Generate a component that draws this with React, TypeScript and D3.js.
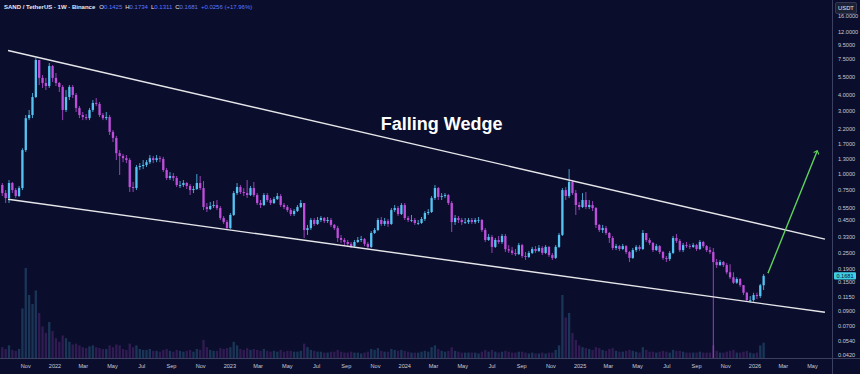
import React from "react";
import * as d3 from "d3";

const W = 860;
const H = 374;
const START = Date.UTC(2021, 8, 13);
const WEEK = 7 * 24 * 3600 * 1000;

const firstOpen = 0.825;

const closes = [
  0.716, 0.657, 0.854, 0.755, 0.680, 0.782, 1.52, 2.66, 2.81, 3.85,
  7.36, 5.38, 4.92, 4.67, 6.62, 5.38, 4.92, 4.59, 3.07, 3.85,
  4.59, 3.99, 3.18, 2.81, 2.71, 2.66, 3.07, 3.47, 3.41, 2.81,
  2.66, 2.71, 2.09, 1.88, 1.44, 1.37, 1.32, 1.277, 0.796, 0.782,
  1.13, 1.15, 1.171, 1.23, 1.32, 1.277, 1.32, 1.30, 1.073, 0.932,
  0.966, 0.932, 0.825, 0.825, 0.854, 0.811, 0.755, 0.769, 0.854, 0.782,
  0.561, 0.541, 0.571, 0.581, 0.551, 0.463, 0.431, 0.388, 0.488, 0.716,
  0.796, 0.729, 0.716, 0.692, 0.782, 0.692, 0.602, 0.581, 0.692, 0.634,
  0.602, 0.645, 0.680, 0.581, 0.561, 0.532, 0.496, 0.523, 0.561, 0.602,
  0.375, 0.388, 0.447, 0.417, 0.447, 0.463, 0.439, 0.447, 0.410, 0.388,
  0.326, 0.315, 0.304, 0.294, 0.283, 0.304, 0.315, 0.320, 0.294, 0.279,
  0.356, 0.375, 0.447, 0.417, 0.439, 0.417, 0.532, 0.551, 0.496, 0.581,
  0.463, 0.447, 0.447, 0.424, 0.424, 0.455, 0.505, 0.514, 0.657, 0.782,
  0.669, 0.680, 0.692, 0.602, 0.431, 0.463, 0.447, 0.431, 0.431, 0.447,
  0.431, 0.447, 0.447, 0.375, 0.315, 0.332, 0.279, 0.315, 0.304, 0.338,
  0.268, 0.262, 0.251, 0.246, 0.288, 0.238, 0.234, 0.251, 0.269, 0.260,
  0.274, 0.251, 0.279, 0.242, 0.230, 0.279, 0.344, 0.755, 0.680, 0.869,
  0.716, 0.581, 0.561, 0.634, 0.561, 0.581, 0.551, 0.410, 0.375, 0.388,
  0.356, 0.326, 0.274, 0.283, 0.269, 0.283, 0.255, 0.230, 0.264, 0.279,
  0.269, 0.356, 0.315, 0.299, 0.264, 0.283, 0.255, 0.230, 0.226, 0.251,
  0.326, 0.310, 0.264, 0.288, 0.283, 0.279, 0.288, 0.269, 0.304, 0.283,
  0.264, 0.255, 0.214, 0.203, 0.214, 0.203, 0.179, 0.164, 0.149, 0.159,
  0.143, 0.125, 0.110, 0.110, 0.120, 0.118, 0.1425, 0.1681,
];

const highs = [
  0.854, 0.755, 0.90, 0.869, 0.782, 0.811, 1.57, 2.81, 3.07, 4.13,
  7.62, 7.36, 5.66, 5.38, 6.98, 6.74, 5.86, 5.01, 4.75, 4.35,
  4.75, 4.75, 4.13, 3.29, 2.96, 2.86, 3.18, 3.65, 3.78, 3.53,
  2.91, 2.96, 2.81, 2.16, 1.95, 1.52, 1.42, 1.394, 1.32, 0.869,
  1.171, 1.21, 1.277, 1.277, 1.394, 1.37, 1.394, 1.37, 1.35, 1.11,
  1.036, 1.018, 0.966, 0.885, 0.90, 0.869, 0.839, 0.811, 1.0, 0.966,
  0.885, 0.602, 0.613, 0.623, 0.634, 0.571, 0.479, 0.447, 0.505, 0.742,
  0.854, 0.825, 0.782, 0.90, 0.811, 0.869, 0.716, 0.634, 0.716, 0.716,
  0.657, 0.669, 0.716, 0.704, 0.602, 0.581, 0.551, 0.541, 0.581, 0.634,
  0.602, 0.410, 0.463, 0.463, 0.471, 0.479, 0.471, 0.471, 0.463, 0.417,
  0.403, 0.344, 0.326, 0.315, 0.304, 0.315, 0.332, 0.338, 0.326, 0.304,
  0.368, 0.388, 0.463, 0.471, 0.463, 0.455, 0.551, 0.581, 0.571, 0.602,
  0.602, 0.479, 0.488, 0.463, 0.447, 0.471, 0.523, 0.541, 0.680, 0.825,
  0.796, 0.716, 0.716, 0.704, 0.623, 0.488, 0.479, 0.463, 0.463, 0.463,
  0.463, 0.463, 0.471, 0.455, 0.388, 0.350, 0.344, 0.326, 0.338, 0.350,
  0.350, 0.288, 0.279, 0.269, 0.299, 0.294, 0.255, 0.260, 0.279, 0.283,
  0.288, 0.283, 0.288, 0.283, 0.251, 0.288, 0.356, 0.782, 0.796, 1.09,
  0.90, 0.755, 0.613, 0.716, 0.729, 0.634, 0.623, 0.561, 0.417, 0.410,
  0.403, 0.362, 0.338, 0.294, 0.288, 0.294, 0.288, 0.260, 0.274, 0.288,
  0.288, 0.375, 0.356, 0.326, 0.304, 0.294, 0.288, 0.260, 0.238, 0.260,
  0.338, 0.350, 0.320, 0.299, 0.304, 0.294, 0.299, 0.294, 0.315, 0.310,
  0.288, 0.279, 0.274, 0.226, 0.222, 0.218, 0.210, 0.206, 0.179, 0.164,
  0.162, 0.143, 0.127, 0.118, 0.125, 0.125, 0.146, 0.1734,
];

const lows = [
  0.680, 0.602, 0.602, 0.716, 0.657, 0.669, 0.755, 1.47, 2.57, 2.66,
  3.78, 4.75, 4.51, 4.35, 4.51, 5.01, 4.67, 4.2, 2.57, 2.96,
  3.65, 3.78, 2.96, 2.66, 2.57, 2.57, 2.57, 2.96, 3.29, 2.71,
  2.57, 2.57, 1.98, 1.75, 1.277, 0.983, 1.23, 1.21, 0.729, 0.729,
  0.755, 1.073, 1.09, 1.13, 1.19, 1.21, 1.23, 1.23, 1.036, 0.90,
  0.90, 0.885, 0.796, 0.782, 0.796, 0.769, 0.692, 0.716, 0.755, 0.755,
  0.532, 0.514, 0.532, 0.551, 0.532, 0.447, 0.417, 0.375, 0.381, 0.479,
  0.692, 0.704, 0.680, 0.657, 0.680, 0.669, 0.581, 0.551, 0.571, 0.613,
  0.581, 0.591, 0.634, 0.561, 0.541, 0.514, 0.479, 0.479, 0.514, 0.551,
  0.326, 0.344, 0.375, 0.403, 0.410, 0.431, 0.424, 0.424, 0.396, 0.375,
  0.304, 0.299, 0.288, 0.283, 0.274, 0.279, 0.299, 0.304, 0.283, 0.269,
  0.274, 0.350, 0.368, 0.403, 0.403, 0.396, 0.410, 0.514, 0.479, 0.488,
  0.447, 0.431, 0.431, 0.410, 0.410, 0.417, 0.439, 0.488, 0.505, 0.634,
  0.634, 0.634, 0.657, 0.581, 0.362, 0.410, 0.424, 0.410, 0.417, 0.417,
  0.417, 0.417, 0.424, 0.362, 0.304, 0.310, 0.251, 0.274, 0.294, 0.294,
  0.255, 0.251, 0.242, 0.238, 0.242, 0.230, 0.222, 0.230, 0.246, 0.251,
  0.255, 0.242, 0.246, 0.234, 0.222, 0.226, 0.274, 0.338, 0.634, 0.657,
  0.692, 0.488, 0.532, 0.551, 0.541, 0.541, 0.523, 0.388, 0.362, 0.356,
  0.344, 0.299, 0.264, 0.264, 0.260, 0.264, 0.246, 0.214, 0.226, 0.255,
  0.260, 0.264, 0.304, 0.288, 0.255, 0.260, 0.246, 0.222, 0.214, 0.218,
  0.246, 0.299, 0.255, 0.255, 0.274, 0.269, 0.274, 0.260, 0.264, 0.274,
  0.255, 0.246, 0.0399, 0.193, 0.200, 0.196, 0.173, 0.159, 0.146, 0.146,
  0.138, 0.120, 0.107, 0.105, 0.107, 0.112, 0.114, 0.1311,
];

const volumes = [
  12, 10, 14, 9, 8, 10, 55, 100, 70, 60,
  75, 50, 35, 28, 40, 30, 22, 18, 25, 22,
  18, 15, 16, 14, 12, 11, 13, 14, 12, 11,
  10, 10, 14, 12, 15, 14, 10, 9, 16, 12,
  14, 10, 9, 9, 10, 8, 8, 7, 9, 10,
  8, 7, 9, 8, 7, 8, 9, 7, 10, 9,
  20, 12, 9, 8, 8, 11, 10, 11, 12, 18,
  14, 10, 9, 11, 9, 10, 9, 8, 10, 8,
  7, 8, 7, 9, 7, 8, 8, 7, 7, 8,
  16, 12, 9, 8, 7, 7, 6, 6, 7, 7,
  9, 7, 6, 6, 7, 6, 6, 5, 6, 7,
  10, 9, 11, 8, 7, 7, 10, 9, 8, 9,
  8, 7, 6, 6, 6, 7, 8, 7, 12, 14,
  10, 8, 7, 8, 12, 8, 7, 6, 6, 6,
  6, 6, 5, 7, 9, 7, 9, 7, 6, 7,
  8, 7, 6, 6, 7, 7, 6, 5, 6, 5,
  5, 6, 5, 6, 6, 9, 14, 70, 45, 50,
  28, 20, 14, 12, 11, 10, 9, 12, 11, 9,
  8, 10, 11, 8, 7, 7, 8, 9, 8, 7,
  6, 12, 9, 7, 7, 6, 7, 8, 7, 6,
  9, 8, 8, 7, 6, 6, 6, 6, 7, 6,
  6, 6, 14, 8, 6, 6, 7, 8, 9, 6,
  6, 7, 8, 6, 5, 6, 14, 17,
];

const priceTicks = [16, 12, 9.5, 7.5, 5.5, 4, 3, 2.2, 1.7, 1.3, 1, 0.75, 0.55, 0.45, 0.33, 0.25, 0.19, 0.15, 0.115, 0.09, 0.07, 0.054, 0.042];

const upperWedge = [
  { date: "2021-09-25", price: 8.69 },
  { date: "2026-05-27", price: 0.32 },
];
const lowerWedge = [
  { date: "2021-09-25", price: 0.642 },
  { date: "2026-05-27", price: 0.0888 },
];
const projection = [
  { date: "2026-01-28", price: 0.176 },
  { date: "2026-05-11", price: 1.5 },
];
const patternLabel = { text: "Falling Wedge", date: "2024-03-18", price: 2.15 };

const BG = "#0a0e2c";
const UP = "#55c4f2";
const DOWN = "#c04edd";
const FONT = "'Liberation Sans', Arial, sans-serif";

export default function App() {
  const plotRight = 832;
  const plotBottom = 358;

  const x = d3
    .scaleUtc()
    .domain([new Date(Date.UTC(2022, 0, 1)), new Date(Date.UTC(2026, 0, 1))])
    .range([55, 755]);
  const y = d3.scaleLog().domain([0.042, 16]).range([355.05, 15.66]);
  const vol = d3.scaleLinear().domain([0, 100]).range([0, 90]);

  const candles = closes.map((c, i) => {
    const o = i === 0 ? firstOpen : closes[i - 1];
    return {
      date: new Date(START + i * WEEK),
      o,
      c,
      h: Math.max(highs[i], o, c),
      l: Math.min(lows[i], o, c),
      v: volumes[i],
    };
  });

  const bw = 2.3;
  const xTicks = x
    .copy()
    .domain([new Date(Date.UTC(2021, 10, 1)), new Date(Date.UTC(2026, 4, 2))])
    .ticks(d3.utcMonth.every(2));
  const fmtX = (d: Date) => (d.getUTCMonth() === 0 ? d3.utcFormat("%Y")(d) : d3.utcFormat("%b")(d));

  const line = d3
    .line<{ date: string; price: number }>()
    .x((d) => x(new Date(d.date + "T00:00:00Z")))
    .y((d) => y(d.price));

  const last = candles[candles.length - 1];
  const change = last.c - last.o;
  const pct = (change / last.o) * 100;

  return (
    <svg
      width={W}
      height={H}
      style={{ position: "absolute", left: 0, top: 0, background: BG }}
      fontFamily={FONT}
    >
      <defs>
        <clipPath id="plot">
          <rect x={0} y={0} width={plotRight} height={plotBottom} />
        </clipPath>
        <marker id="arrow" viewBox="0 0 10 10" refX="5" refY="5" markerWidth="7" markerHeight="7" orient="auto-start-reverse" markerUnits="userSpaceOnUse">
          <path d="M1,1 L5,5 L1,9" fill="none" stroke="#5fd35a" strokeWidth="1.6" />
        </marker>
      </defs>
      <rect x={0} y={0} width={W} height={H} fill={BG} />

      <g clipPath="url(#plot)">
        {candles.map((d, i) => (
          <rect
            key={"v" + i}
            x={x(d.date) - bw / 2}
            y={plotBottom - vol(d.v)}
            width={bw}
            height={vol(d.v)}
            fill={d.c >= d.o ? UP : DOWN}
            opacity={0.22}
          />
        ))}
        {candles.map((d, i) => {
          const cx = x(d.date);
          const col = d.c >= d.o ? UP : DOWN;
          const top = y(Math.max(d.o, d.c));
          const bot = y(Math.min(d.o, d.c));
          return (
            <g key={"c" + i}>
              <line x1={cx} x2={cx} y1={y(d.h)} y2={y(d.l)} stroke={col} strokeWidth={0.8} />
              <rect x={cx - bw / 2} y={top} width={bw} height={Math.max(0.8, bot - top)} fill={col} />
            </g>
          );
        })}
        <path d={line(upperWedge) || ""} stroke="#e6e6ea" strokeWidth={1.4} fill="none" />
        <path d={line(lowerWedge) || ""} stroke="#e6e6ea" strokeWidth={1.4} fill="none" />
        <path d={line(projection) || ""} stroke="#5fd35a" strokeWidth={1.4} fill="none" markerEnd="url(#arrow)" />
        <text
          x={x(new Date(patternLabel.date + "T00:00:00Z"))}
          y={y(patternLabel.price)}
          fill="#ffffff"
          fontSize={18}
          fontWeight="bold"
          textAnchor="middle"
        >
          {patternLabel.text}
        </text>
      </g>

      <line x1={plotRight + 0.5} x2={plotRight + 0.5} y1={0} y2={H} stroke="#3b4060" strokeWidth={1} />
      <line x1={0} x2={W} y1={plotBottom + 0.5} y2={plotBottom + 0.5} stroke="#3b4060" strokeWidth={1} />

      {priceTicks.map((p) => (
        <text key={"p" + p} x={838} y={y(p)} dy="0.35em" fill="#c8cad6" fontSize={5.6}>
          {p.toFixed(4)}
        </text>
      ))}
      <rect x={834} y={y(last.c) - 3.6} width={22} height={7.2} fill="#3fd0e6" rx={1} />
      <text x={845} y={y(last.c)} dy="0.35em" fill="#0a0e2b" fontSize={5.6} textAnchor="middle">
        {last.c.toFixed(4)}
      </text>
      <rect x={835.5} y={2.5} width={21} height={11} fill="#1c2033" stroke="#3b4060" strokeWidth={0.8} rx={1.5} />
      <text x={846} y={8} dy="0.35em" fill="#e0e2ea" fontSize={5.8} textAnchor="middle">
        USDT
      </text>

      {xTicks.map((d, i) => (
        <text key={"t" + i} x={x(d)} y={366} dy="0.35em" fill="#c8cad6" fontSize={5.6} textAnchor="middle">
          {fmtX(d)}
        </text>
      ))}

      <text x={4} y={9} fontSize={6} fill="#e6e8f0">
        <tspan fontWeight="bold">SAND / TetherUS · 1W · Binance</tspan>
        <tspan dx={4}>O</tspan>
        <tspan fill="#5b78ff">{last.o.toFixed(4)}</tspan>
        <tspan dx={3}>H</tspan>
        <tspan fill="#5b78ff">{last.h.toFixed(4)}</tspan>
        <tspan dx={3}>L</tspan>
        <tspan fill="#5b78ff">{last.l.toFixed(4)}</tspan>
        <tspan dx={3}>C</tspan>
        <tspan fill="#5b78ff">{last.c.toFixed(4)}</tspan>
        <tspan dx={3} fill="#5b78ff">
          {(change >= 0 ? "+" : "") + change.toFixed(4) + " (" + (pct >= 0 ? "+" : "") + pct.toFixed(2) + "%)"}
        </tspan>
      </text>
    </svg>
  );
}
